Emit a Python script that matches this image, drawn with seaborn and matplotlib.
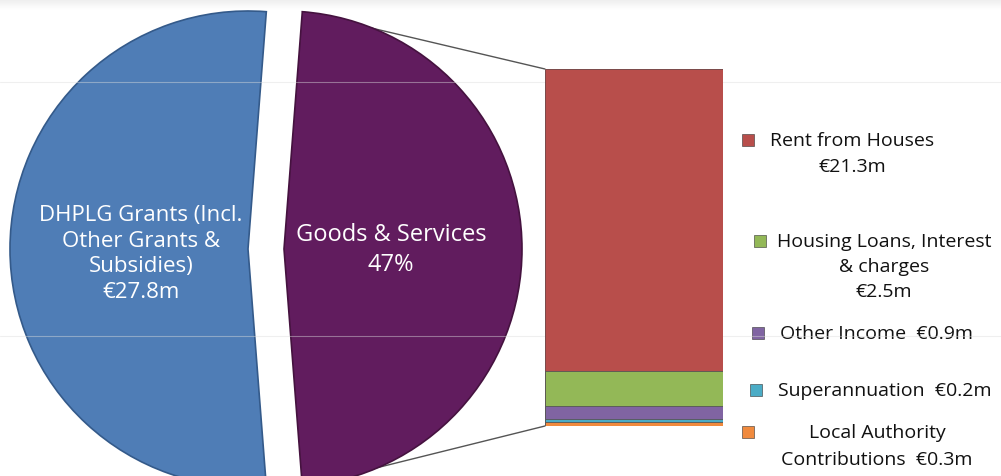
import numpy as np
import matplotlib
matplotlib.use("Agg")
import matplotlib.pyplot as plt
import seaborn as sns
import pandas as pd
from matplotlib.patches import ConnectionPatch

# pie: main income split
pie_labels = ["DHPLG Grants (Incl.\nOther Grants &\nSubsidies)\n€27.8m", "Goods & Services\n47%"]
pie_values = [27.8, 25.2]
pie_colors = ["#4F7DB6", "#611C5E"]
pie_edges = ["#345a8a", "#45123f"]

# bar: breakdown of goods & services (bottom to top)
bar_names = ["Local Authority\nContributions  €0.3m", "Superannuation  €0.2m",
             "Other Income  €0.9m", "Housing Loans, Interest\n& charges\n€2.5m",
             "Rent from Houses\n€21.3m"]
bar_values = [0.3, 0.2, 0.9, 2.5, 21.3]
bar_colors = ["#F08A3E", "#4BACC6", "#8064A2", "#93B857", "#B84E4B"]

W, H = 1001, 477
sns.set_theme(style="white")
plt.rcParams["font.family"] = ["Open Sans", "DejaVu Sans"]

fig = plt.figure(figsize=(W / 100, H / 100), dpi=100)
ax = fig.add_axes([0, 0, 1, 1])

# top grey band
grad = np.linspace(0.93, 1.0, 20).reshape(-1, 1)
ax.imshow(grad, extent=(0, W, H - 11, H), cmap="gray", vmin=0, vmax=1, aspect="auto", zorder=0)

cx, cy, r = 266, H - 250, 238
e = 18  # explode distance
frac = pie_values[1] / sum(pie_values)
lab_iter = iter(pie_labels)
wedges, texts, autotexts = ax.pie(
    pie_values, colors=pie_colors, center=(cx, cy), radius=r,
    startangle=frac * 180, explode=[e, e], frame=True,
    autopct=lambda p: next(lab_iter), pctdistance=0.45,
    wedgeprops=dict(linewidth=1.2),
    textprops=dict(color="white", fontsize=16, ha="center", va="center"))
for w, ec in zip(wedges, pie_edges):
    w.set_edgecolor(ec)
autotexts[0].set_y(autotexts[0].get_position()[1] - 4)
autotexts[0].set_linespacing(1.3)
autotexts[1].set_fontsize(17)
autotexts[1].set_linespacing(1.35)

ax.set_xlim(0, W)
ax.set_ylim(0, H)
ax.set_aspect("auto")
ax.axis("off")

# stacked bar in its own axes
ax_bar = fig.add_axes([545 / W, (H - 427) / H, 178 / W, 357 / H])
tops = np.cumsum(bar_values)
df = pd.DataFrame({"pos": [0] * len(bar_values), "top": tops, "name": bar_names})
for i in range(len(bar_values) - 1, -1, -1):
    sns.barplot(x=[0], y=[df["top"][i]], color=bar_colors[i], saturation=1,
                width=1, errorbar=None, ax=ax_bar,
                edgecolor="#6a3a3a" if i == 4 else "#555555", linewidth=0.6)
ax_bar.set_xlim(-0.5, 0.5)
ax_bar.set_ylim(0, tops[-1])
ax_bar.axis("off")

# connector lines from the purple slice edges to the bar
th = np.deg2rad(frac * 180)
for sgn, yb in [(1, tops[-1]), (-1, 0)]:
    pa = (cx + e + r * np.cos(th), cy + sgn * r * np.sin(th))
    con = ConnectionPatch(xyA=pa, coordsA=ax.transData, xyB=(-0.5, yb),
                          coordsB=ax_bar.transData, color="#555555", lw=1.0, zorder=0.5)
    ax.add_artist(con)

# faint horizontal scan lines
for yy in [83, 337]:
    ax.axhline(H - yy, color="#dddddd", alpha=0.45, lw=0.8, zorder=6)

# legend entries, top to bottom
marker_x = [748, 756, 758, 760, 748]
text_cx = [877, 885, 876, 884, 852]
first_y = [433, 391, 334, 242, 141]
spacing = [27, 25, 25, 25, 26]
for i in range(len(bar_names) - 1, -1, -1):
    ax.scatter(marker_x[i], H - first_y[i], marker="s", s=70, color=bar_colors[i],
               edgecolor="#333333", linewidth=0.4, zorder=5)
    for j, line in enumerate(bar_names[i].split("\n")):
        ax.text(text_cx[i], H - first_y[i] - j * spacing[i], line, fontsize=14,
                ha="center", va="center", color="#111111")

fig.savefig("out.png", dpi=100, facecolor="white")
